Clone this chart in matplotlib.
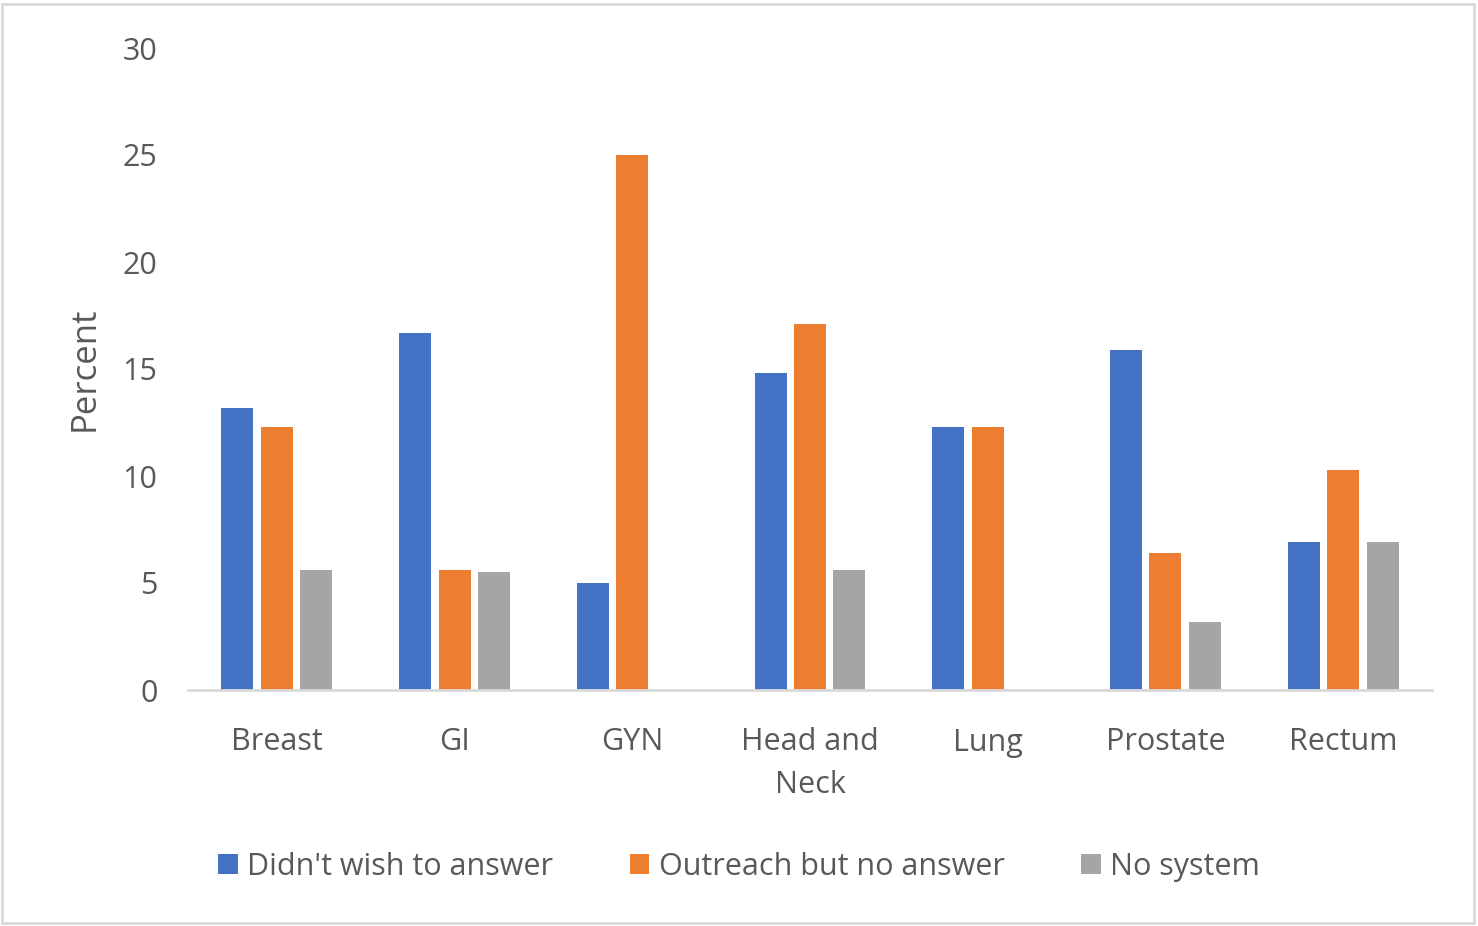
import matplotlib
matplotlib.use('Agg')
import numpy as np
import matplotlib.pyplot as plt
from matplotlib.patches import Rectangle

categories = ['Breast', 'GI', 'GYN', 'Head and\nNeck', 'Lung', 'Prostate', 'Rectum']
series_names = ["Didn't wish to answer", 'Outreach but no answer', 'No system']
didnt_wish = [13.2, 16.7, 5.0, 14.8, 12.3, 15.9, 6.9]
outreach = [12.3, 5.6, 25.0, 17.1, 12.3, 6.4, 10.3]
no_system = [5.6, 5.5, 0, 5.6, 0, 3.2, 6.9]
y_ticks = [0, 5, 10, 15, 20, 25, 30]

colors = ['#4472C4', '#ED7D31', '#A5A5A5']
txt = '#595959'

plt.rcParams['font.family'] = ['Open Sans', 'DejaVu Sans']

fig = plt.figure(figsize=(14.78, 9.26), dpi=100)
ax = fig.add_axes([188/1478, 1 - 690/926, (1432-188)/1478, (690-48)/926])

x = np.arange(len(categories))
w = 0.18
step = 0.222
for i, (vals, name) in enumerate(zip([didnt_wish, outreach, no_system], series_names)):
    ax.bar(x + (i - 1)*step, vals, width=w, color=colors[i], label=name, zorder=2)

ax.set_xlim(-0.5, len(categories) - 0.5)
ax.set_ylim(0, 30)
ax.set_yticks(y_ticks)
ax.set_xticks(x)
ax.set_xticklabels(categories, fontsize=22, color=txt, linespacing=1.55)
ax.tick_params(axis='y', labelsize=22, labelcolor=txt, length=0, pad=22)
ax.tick_params(axis='x', length=0, pad=27)
for s in ['top', 'right', 'left']:
    ax.spines[s].set_visible(False)
ax.spines['bottom'].set_color('#D9D9D9')
ax.spines['bottom'].set_linewidth(2)
ax.spines['bottom'].set_zorder(3)

ax.set_ylabel('Percent', fontsize=25, color=txt, labelpad=15, fontweight='medium')

leg = fig.legend(loc='center', bbox_to_anchor=(0.5, 1 - 867/926), ncol=3, frameon=False,
                 fontsize=22, labelcolor=txt, handlelength=0.65, handleheight=0.65,
                 handletextpad=0.3, columnspacing=2.5)

fig.patches.append(Rectangle((2/1478, 3/926), 1472/1478, 919/926, transform=fig.transFigure,
                             fill=False, edgecolor='#D9D9D9', linewidth=2))

fig.savefig('out.png', dpi=100)
